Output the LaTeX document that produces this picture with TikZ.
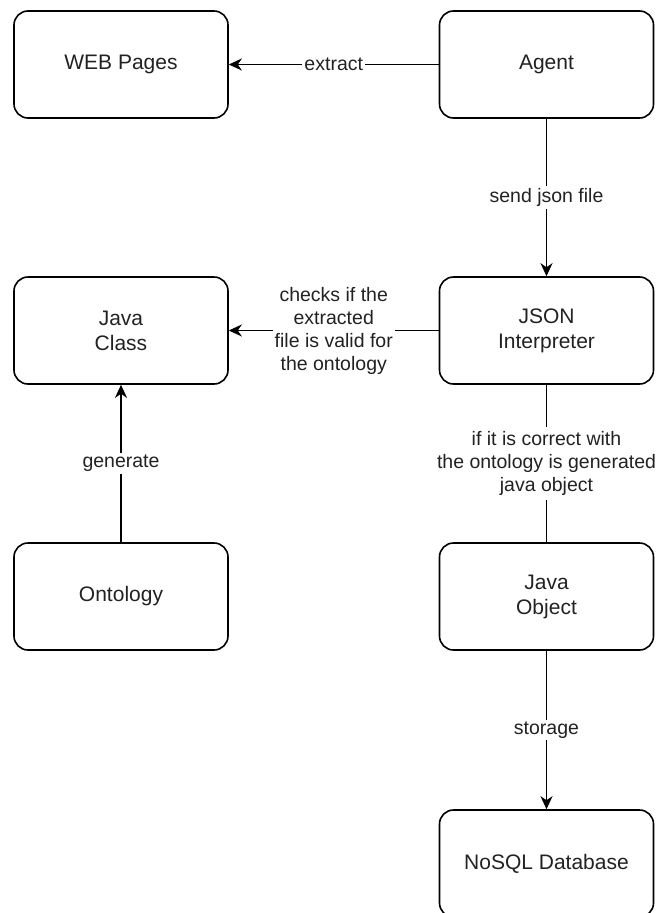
\documentclass[tikz,border=0pt]{standalone}
\usepackage{fontspec}
\setmainfont{Liberation Sans}
\usetikzlibrary{arrows.meta}
\definecolor{ink}{HTML}{222222}
\tikzset{
  box/.style={draw=black, line width=1.6pt, rounded corners=14pt,
    minimum width=214pt, minimum height=107pt, align=center,
    font=\fontsize{21}{25}\selectfont, text=ink},
  conn/.style={draw=black, line width=1.6pt},
  arr/.style={conn, -{Stealth[length=13pt, width=12pt, inset=4pt]}},
  lbl/.style={fill=white, inner sep=2pt, align=center,
    font=\fontsize{19.5}{23}\selectfont, text=ink}
}
\begin{document}
\begin{tikzpicture}[x=1pt, y=-1pt]
  \clip (0,0) rectangle (657,913);
  \fill[white] (0,0) rectangle (657,913);

  % boxes
  \node[box] (web)    at (121,64.5)    {WEB Pages};
  \node[box] (agent)  at (546.5,64.5)  {Agent};
  \node[box] (jclass) at (121,330.5)   {Java\\Class};
  \node[box] (json)   at (546.5,330.5) {JSON\\Interpreter};
  \node[box] (onto)   at (121,596.5)   {Ontology};
  \node[box] (jobj)   at (546.5,596.5) {Java\\Object};
  \node[box] (nosql)  at (546.5,863.5) {NoSQL Database};

  % connectors
  \draw[arr] (agent.west) -- node[lbl, pos=0.5] {extract} (web.east);
  \draw[arr] (agent.south) -- node[lbl, pos=0.5] {send json file} (json.north);
  \draw[arr] (json.west) -- node[lbl, pos=0.5] {checks if the\\extracted\\file is valid for\\the ontology} (jclass.east);
  \draw[conn] (json.south) -- node[lbl, pos=0.5, inner sep=4pt] {if it is correct with\\the ontology is generated\\java object} (jobj.north);
  \draw[arr] (onto.north) -- node[lbl, pos=0.5] {generate} (jclass.south);
  \draw[arr] (jobj.south) -- node[lbl, pos=0.5] {storage} (nosql.north);
\end{tikzpicture}
\end{document}
